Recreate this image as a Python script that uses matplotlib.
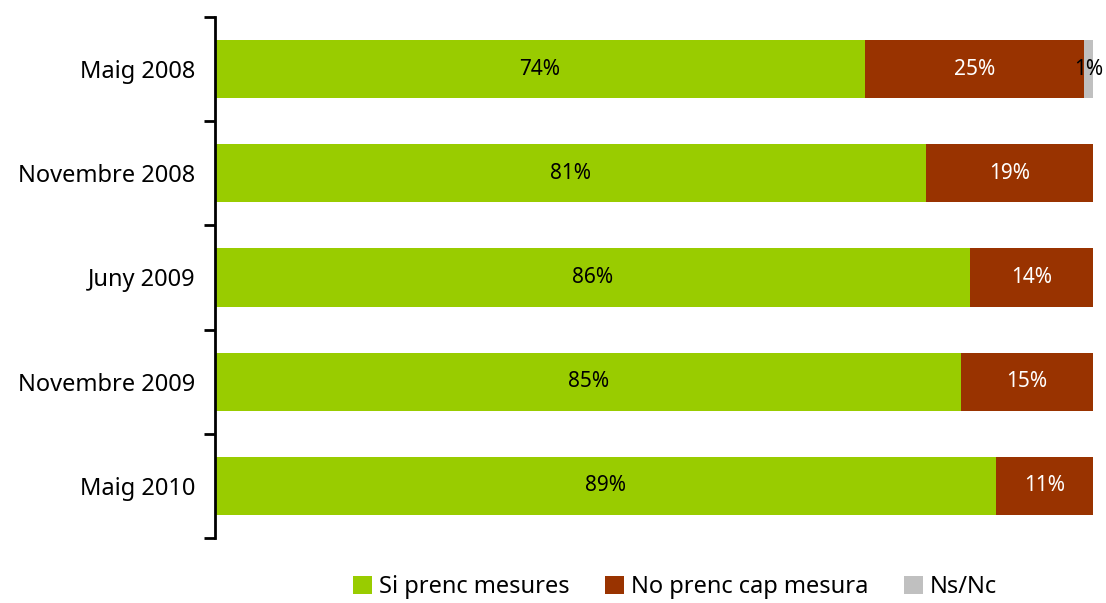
import numpy as np
import matplotlib.pyplot as plt
from matplotlib.ticker import FixedLocator

categories = ["Maig 2008", "Novembre 2008", "Juny 2009", "Novembre 2009", "Maig 2010"]
si_prenc = [74, 81, 86, 85, 89]
no_prenc = [25, 19, 14, 15, 11]
ns_nc = [1, 0, 0, 0, 0]
series_names = ["Si prenc mesures", "No prenc cap mesura", "Ns/Nc"]
colors = ["#99CC00", "#993300", "#C0C0C0"]
text_colors = ["black", "white", "black"]

plt.rcParams["font.family"] = ["Noto Sans", "DejaVu Sans"]

fig = plt.figure(figsize=(11.06, 6.03), dpi=100)
ax = fig.add_axes([215 / 1106, 1 - 538 / 603, (1093 - 215) / 1106, (538 - 17) / 603])

y = np.arange(len(categories))
left = np.zeros(len(categories))
for vals, name, col, tcol in zip([si_prenc, no_prenc, ns_nc], series_names, colors, text_colors):
    vals = np.array(vals, dtype=float)
    ax.barh(y, vals, left=left, height=0.56, color=col, label=name)
    for yi, v, l in zip(y, vals, left):
        if v > 0:
            ax.text(l + v / 2, yi, f"{int(v)}%", ha="center", va="center",
                    color=tcol, fontsize=15)
    left += vals

ax.set_xlim(0, 100)
ax.set_ylim(len(categories) - 0.5, -0.5)
ax.set_yticks(y)
ax.set_yticklabels(categories, fontsize=17)
ax.tick_params(axis="y", which="major", length=0, pad=14)
ax.yaxis.set_minor_locator(FixedLocator(np.arange(-0.5, len(categories), 1)))
ax.tick_params(axis="y", which="minor", length=8, width=2)
ax.set_xticks([])
for s in ["top", "right", "bottom"]:
    ax.spines[s].set_visible(False)
ax.spines["left"].set_linewidth(2)

fig.legend(loc="center", bbox_to_anchor=(675 / 1106, 0.026), ncol=3, frameon=False,
           fontsize=17, handlelength=0.8, handleheight=0.8, handletextpad=0.3,
           columnspacing=1.5)

fig.savefig("out.png", dpi=100)
